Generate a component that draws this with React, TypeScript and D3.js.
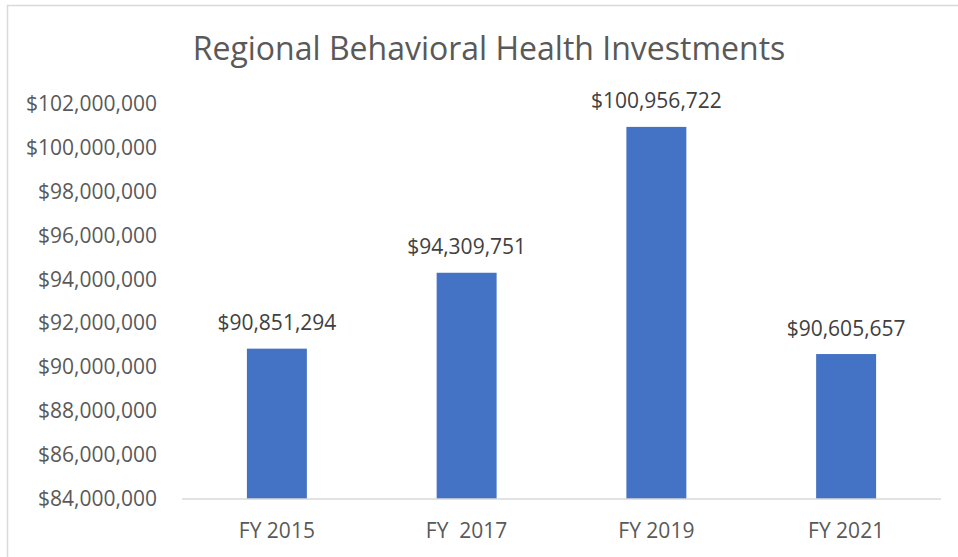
import * as d3 from "d3";

const categories = ["FY 2015", "FY  2017", "FY 2019", "FY 2021"];
const values = [90851294, 94309751, 100956722, 90605657];
const yTicks = [84e6, 86e6, 88e6, 90e6, 92e6, 94e6, 96e6, 98e6, 100e6, 102e6];
const title = "Regional Behavioral Health Investments";

const W = 958;
const H = 557;
const FONT = "'Open Sans', 'Noto Sans', sans-serif";

export default function App() {
  const margin = { left: 182, right: W - 941, top: 104, bottom: H - 499 };

  const x = d3
    .scaleBand<string>()
    .domain(categories)
    .range([margin.left, W - margin.right])
    .paddingInner(0.684)
    .paddingOuter(0.342);

  const y = d3
    .scaleLinear()
    .domain([84e6, 102e6])
    .range([H - margin.bottom, margin.top]);

  const fmt = (v: number) => "$" + d3.format(",")(Math.round(v));

  return (
    <svg
      width={W}
      height={H}
      style={{ position: "absolute", left: 0, top: 0, background: "#fff" }}
      fontFamily={FONT}
    >
      {/* chart frame */}
      <rect x={7.5} y={5.5} width={W} height={H} fill="#fff" stroke="#d9d9d9" strokeWidth={1.5} />

      <text x={489} y={60} textAnchor="middle" fontSize={32} fill="#595959">
        {title}
      </text>

      {/* y tick labels */}
      {yTicks.map((t) => (
        <text key={t} x={157} y={y(t) + 7} textAnchor="end" fontSize={21} fill="#595959">
          {fmt(t)}
        </text>
      ))}

      {/* bars */}
      {values.map((v, i) => (
        <rect
          key={categories[i]}
          x={x(categories[i])}
          y={y(v)}
          width={x.bandwidth()}
          height={y(84e6) - y(v)}
          fill="#4472c4"
        />
      ))}

      {/* data labels */}
      {values.map((v, i) => (
        <text
          key={"l" + i}
          x={(x(categories[i]) ?? 0) + x.bandwidth() / 2}
          y={y(v) - 18.5}
          textAnchor="middle"
          fontSize={21}
          fill="#404040"
        >
          {fmt(v)}
        </text>
      ))}

      {/* x axis */}
      <line
        x1={margin.left}
        x2={W - margin.right}
        y1={y(84e6)}
        y2={y(84e6)}
        stroke="#d9d9d9"
        strokeWidth={1.5}
      />
      {categories.map((c) => (
        <text
          key={c}
          x={(x(c) ?? 0) + x.bandwidth() / 2}
          y={538}
          textAnchor="middle"
          fontSize={21}
          fill="#595959"
          style={{ whiteSpace: "pre" }}
        >
          {c}
        </text>
      ))}
    </svg>
  );
}
